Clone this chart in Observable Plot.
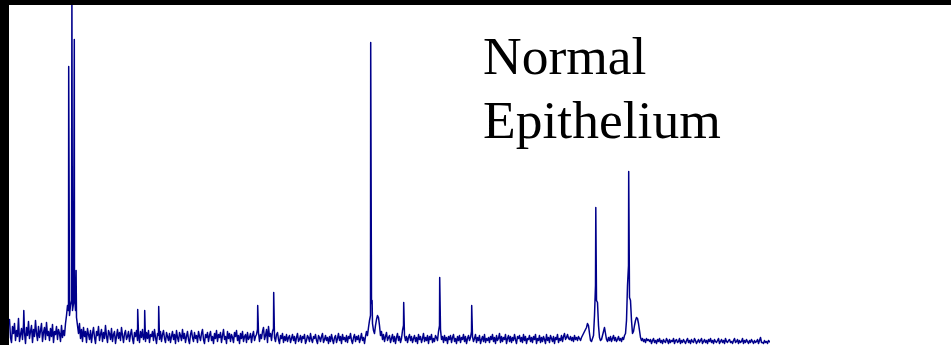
<!DOCTYPE html>
<html>
<head>
<meta charset="utf-8">
<script src="https://cdn.jsdelivr.net/npm/d3@7"></script>
<script src="https://cdn.jsdelivr.net/npm/@observablehq/plot@0.6"></script>
<style>
  html, body { margin: 0; padding: 0; background: #000; width: 951px; height: 345px; overflow: hidden; }
  #chart { position: absolute; left: 9px; top: 5px; width: 942px; height: 340px; background: #fff; }
  #chart svg { display: block; background: #fff; }
  #label { position: absolute; left: 483px; top: 24px; font-family: "Liberation Serif", "Times New Roman", serif;
           font-size: 53.5px; line-height: 64px; color: #000; white-space: nowrap; }
</style>
</head>
<body>
<div id="chart"></div>
<div id="label">Normal<br>Epithelium</div>
<script>
// Sampling grid of the spectrum (one value per channel)
const channelStart = 9;
const channelStep = 1;

// Baseline intensities, one per channel (40 per row)
const baselineIntensity = [
  26,8,3,19,12,22,5,15,9,27,4,11,17,6,21,13,2,18,10,24,7,14,20,3,16,9,25,12,5,19,8,15,22,4,13,18,6,23,10,14,
  5,17,9,21,3,14,11,19,6,16,12,4,20,8,15,10,22,30,40,35,30,40,45,35,42,50,35,28,20,12,22,7,16,4,18,9,14,3,17,11,
  6,15,3,12,18,8,2,14,10,19,5,11,16,4,13,7,20,9,3,15,12,6,17,4,11,14,2,9,16,7,13,5,18,10,3,12,15,6,9,14,
  4,11,16,7,2,13,9,15,5,12,3,14,8,16,6,10,4,13,7,15,3,11,9,14,5,16,8,2,12,10,6,14,4,11,15,7,3,13,9,5,
  12,3,9,14,6,11,2,15,8,4,13,10,5,16,7,12,3,9,14,6,2,11,15,8,4,13,7,10,3,14,9,5,12,16,6,2,11,8,13,4,
  10,14,5,9,2,12,7,15,4,11,8,13,3,10,16,6,9,2,14,7,12,4,11,8,3,13,9,15,5,10,2,12,7,14,4,9,11,3,13,6,
  8,12,3,10,14,5,9,11,16,13,4,11,7,14,18,6,10,16,3,19,9,12,5,14,17,8,4,11,13,6,2,10,7,12,3,9,5,11,4,8,
  10,3,7,11,5,9,2,8,12,4,6,10,3,9,7,11,2,5,10,8,4,12,6,3,9,7,11,5,2,10,8,4,9,12,3,6,10,5,8,2,
  9,4,11,6,2,8,10,3,7,12,5,9,2,11,6,8,4,10,3,9,7,12,5,2,8,11,4,9,6,10,3,7,12,5,8,2,9,14,10,18,
  25,30,42,22,15,12,20,26,30,28,20,10,14,6,11,4,9,13,5,8,10,3,7,11,4,9,2,8,12,5,9,3,7,15,20,10,5,9,3,8,
  11,5,9,3,7,10,4,8,2,11,6,9,3,7,12,4,8,5,10,2,9,6,11,3,7,4,10,8,5,14,20,16,6,9,3,10,5,8,2,9,
  6,10,3,8,11,4,7,2,9,5,10,3,8,6,11,4,9,2,7,10,5,8,14,9,4,7,11,3,8,5,10,2,6,9,4,11,3,7,5,8,
  3,9,6,11,4,8,2,10,5,7,12,3,9,4,8,6,11,2,7,10,4,9,3,8,5,11,6,2,9,7,10,4,8,3,11,5,9,2,7,6,
  10,4,8,3,9,6,11,2,7,5,10,3,8,4,9,6,2,11,5,8,3,10,7,4,9,2,8,6,11,3,7,5,10,4,9,12,6,8,11,7,
  6,9,5,8,4,10,6,8,5,9,7,5,8,10,12,14,16,18,22,20,12,5,4,7,10,30,60,45,43,20,8,5,6,10,14,18,12,6,4,8,
  5,9,4,7,10,5,8,4,6,9,5,7,4,8,6,10,12,25,60,80,48,45,25,12,14,20,25,28,27,22,15,8,5,7,4,6,3,7,5,6,
  4,6,2,5,7,3,5,2,6,4,7,3,5,2,6,4,3,7,5,2,6,3,5,4,7,2,5,6,3,4,7,2,5,3,6,4,2,5,7,3,
  5,2,6,4,3,7,5,2,4,6,3,5,7,2,4,6,3,5,2,6,4,7,3,5,2,6,4,3,5,7,2,4,6,3,5,2,7,4,3,5,
  6,3,4,2,5,7,3,4,6,2,5,3,4,7,2,5,3,6,4,2,5,3,6,4,2,5,3,4,6,2,5,8,3,3,2,5,3,4,2,5,
  4,3
];

// Sharp peaks: channel positions and their intensities
const peakChannel   = [23.3, 68.2, 71.4, 73.8, 75.6, 137.2, 144.2, 158.2, 257.2, 273.2, 370.2, 371.6, 403.2, 439.2, 471.2, 595.3, 628.2];
const peakIntensity = [35,   279,  360,  306,  75,   36,    35,    39,    40,    53,    303,   45,    43,    68,    40,    138,   174];

const data = baselineIntensity.map((v, i) => ({channel: channelStart + i * channelStep, intensity: v}))
  .concat(peakChannel.map((c, i) => ({channel: c, intensity: peakIntensity[i]})))
  .sort((a, b) => a.channel - b.channel);

const chart = Plot.plot({
  width: 942,
  height: 340,
  marginLeft: 0,
  marginRight: 181,
  marginTop: 0,
  marginBottom: 0,
  x: {domain: [9, 770], axis: null},
  y: {domain: [0, 340], axis: null},
  marks: [
    Plot.line(data, {x: "channel", y: "intensity", stroke: "#00008b", strokeWidth: 1.5, clip: true})
  ]
});
document.getElementById("chart").appendChild(chart);
</script>
</body>
</html>
